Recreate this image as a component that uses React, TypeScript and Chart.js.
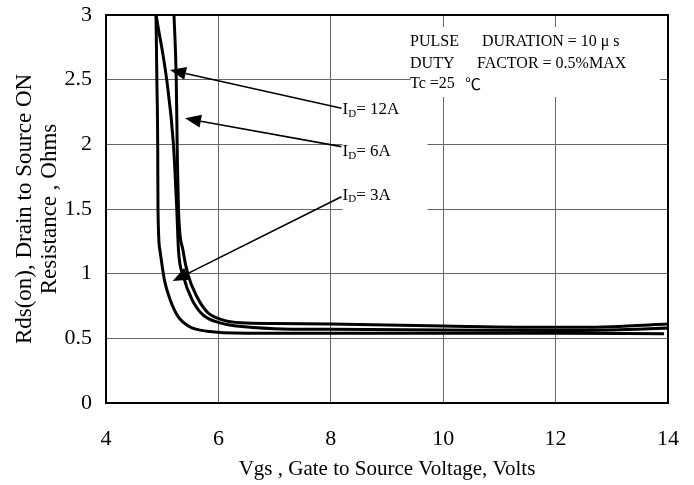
import React, { useEffect, useRef } from "react";
import { Chart, registerables } from "chart.js";

Chart.register(...registerables);

// ---- data ----
const vgs3A = [4.89, 4.905, 4.92, 4.925, 4.96, 5.04, 5.14, 5.28, 5.49, 5.8, 6.5, 8, 10, 12, 13.93];
const rds3A = [3.0, 2.5, 2.0, 1.5, 1.18, 0.95, 0.8, 0.67, 0.59, 0.555, 0.54, 0.54, 0.54, 0.54, 0.535];

const vgs6A = [4.89, 5.08, 5.2, 5.26, 5.29, 5.37, 5.53, 5.73, 6.03, 6.33, 7, 8, 10, 12, 13, 14];
const rds6A = [3.0, 2.5, 2.0, 1.49, 1.18, 0.99, 0.8, 0.68, 0.62, 0.595, 0.575, 0.57, 0.565, 0.56, 0.565, 0.58];

const vgs12A = [5.21, 5.25, 5.27, 5.29, 5.37, 5.46, 5.62, 5.81, 6.06, 6.4, 7, 8, 10, 12, 12.5, 13, 14];
const rds12A = [3.0, 2.5, 1.88, 1.49, 1.18, 0.99, 0.82, 0.7, 0.645, 0.62, 0.615, 0.61, 0.595, 0.585, 0.585, 0.59, 0.61];

const xTickLabels = ["4", "6", "8", "10", "12", "14"];
const yTickLabels = ["0", "0.5", "1", "1.5", "2", "2.5", "3"];

const xTitle = "Vgs , Gate to Source Voltage, Volts";
const yTitle = ["Rds(on), Drain to Source ON", "Resistance , Ohms"];

const seriesLabels = ["3A", "6A", "12A"];

// annotation texts
const noteLines = [
  ["PULSE", "DURATION = 10 μ s"],
  ["DUTY", "FACTOR = 0.5%MAX"],
  ["Tc =25", "℃"],
];
const noteLineY = [2.794, 2.621, 2.467];
const noteSegX = [
  [9.41, 10.69],
  [9.41, 10.6],
  [9.41, 10.39],
];

// current labels with arrows (data units)
const labelNames = ["12A", "6A", "3A"];
const labelX = 8.21;
const labelY = [2.266, 1.943, 1.608];
const arrowTail = [
  [8.19, 2.279],
  [8.19, 1.982],
  [8.19, 1.595],
];
const arrowTip = [
  [5.139, 2.575],
  [5.406, 2.201],
  [5.187, 0.943],
];

// white boxes behind texts (data units)
const maskBoxes = [
  { x0: 9.41, x1: 13.86, y0: 2.907, y1: 2.366 },
  { x0: 8.21, x1: 9.72, y0: 2.38, y1: 1.46 },
];

const FONT = "'Liberation Serif', 'Times New Roman', serif";

function toPts(xs: number[], ys: number[]) {
  return xs.map((x, i) => ({ x, y: ys[i] }));
}

const annotPlugin = {
  id: "annot",
  beforeDatasetsDraw(chart: any) {
    const { ctx, scales } = chart;
    const xs = scales.x;
    const ys = scales.y;
    ctx.save();
    ctx.fillStyle = "#ffffff";
    for (const b of maskBoxes) {
      const x0 = xs.getPixelForValue(b.x0);
      const x1 = xs.getPixelForValue(b.x1);
      const y0 = ys.getPixelForValue(b.y0);
      const y1 = ys.getPixelForValue(b.y1);
      ctx.fillRect(x0, y0, x1 - x0, y1 - y0);
    }
    ctx.restore();
  },
  afterDatasetsDraw(chart: any) {
    const { ctx, scales, chartArea } = chart;
    const xs = scales.x;
    const ys = scales.y;
    ctx.save();
    // frame
    ctx.strokeStyle = "#000";
    ctx.lineWidth = 2;
    ctx.strokeRect(chartArea.left, chartArea.top, chartArea.right - chartArea.left, chartArea.bottom - chartArea.top);

    ctx.fillStyle = "#000";
    ctx.textBaseline = "middle";
    ctx.textAlign = "left";
    // note text
    noteLines.forEach((segs, i) => {
      segs.forEach((s, j) => {
        ctx.font = s === "℃" ? `16px 'Noto Sans CJK SC', ${FONT}` : `16px ${FONT}`;
        ctx.fillText(s, xs.getPixelForValue(noteSegX[i][j]), ys.getPixelForValue(noteLineY[i]));
      });
    });

    // labels I_D= ...
    labelNames.forEach((name, i) => {
      let px = xs.getPixelForValue(labelX);
      const py = ys.getPixelForValue(labelY[i]);
      ctx.font = `17px ${FONT}`;
      ctx.fillText("I", px, py);
      px += ctx.measureText("I").width;
      ctx.font = `11px ${FONT}`;
      ctx.fillText("D", px, py + 4);
      px += ctx.measureText("D").width;
      ctx.font = `17px ${FONT}`;
      ctx.fillText("= " + name, px, py);
    });

    // arrows
    ctx.strokeStyle = "#000";
    ctx.lineWidth = 1.6;
    arrowTail.forEach((t, i) => {
      const x0 = xs.getPixelForValue(t[0]);
      const y0 = ys.getPixelForValue(t[1]);
      const x1 = xs.getPixelForValue(arrowTip[i][0]);
      const y1 = ys.getPixelForValue(arrowTip[i][1]);
      const ang = Math.atan2(y1 - y0, x1 - x0);
      const hl = 16;
      const hw = 6.5;
      const bx = x1 - hl * Math.cos(ang);
      const by = y1 - hl * Math.sin(ang);
      ctx.beginPath();
      ctx.moveTo(x0, y0);
      ctx.lineTo(bx, by);
      ctx.stroke();
      ctx.beginPath();
      ctx.moveTo(x1, y1);
      ctx.lineTo(bx + hw * Math.sin(ang), by - hw * Math.cos(ang));
      ctx.lineTo(bx - hw * Math.sin(ang), by + hw * Math.cos(ang));
      ctx.closePath();
      ctx.fill();
    });
    ctx.restore();
  },
};

export default function App() {
  const canvasRef = useRef<HTMLCanvasElement | null>(null);

  useEffect(() => {
    if (!canvasRef.current) return;
    const lineStyle = {
      borderColor: "#000",
      borderWidth: 3,
      pointRadius: 0,
      pointHoverRadius: 0,
      fill: false,
      cubicInterpolationMode: "monotone" as const,
    };
    const chart = new Chart(canvasRef.current, {
      type: "line",
      data: {
        datasets: [
          { label: seriesLabels[0], data: toPts(vgs3A, rds3A), ...lineStyle },
          { label: seriesLabels[1], data: toPts(vgs6A, rds6A), ...lineStyle },
          { label: seriesLabels[2], data: toPts(vgs12A, rds12A), ...lineStyle },
        ],
      },
      options: {
        responsive: false,
        animation: false,
        devicePixelRatio: 1,
        layout: { padding: { left: 0, right: 26, top: 15, bottom: 0 } },
        plugins: {
          legend: { display: false },
          tooltip: { enabled: false },
        },
        scales: {
          x: {
            type: "linear",
            min: 4,
            max: 14,
            ticks: {
              stepSize: 2,
              padding: 23,
              color: "#000",
              font: { family: FONT, size: 22 },
              callback: (_v: any, i: number) => xTickLabels[i],
            },
            grid: { color: "#666", lineWidth: 1, drawTicks: false },
            border: { display: false },
            title: {
              display: true,
              text: xTitle,
              color: "#000",
              font: { family: FONT, size: 21 },
              padding: { top: 0, bottom: 3 },
            },
            afterFit: (scale: any) => {
              scale.height = 82;
              scale.paddingLeft = 0;
              scale.paddingRight = 0;
            },
          },
          y: {
            type: "linear",
            min: 0,
            max: 3,
            ticks: {
              stepSize: 0.5,
              padding: 14,
              color: "#000",
              font: { family: FONT, size: 22 },
              callback: (_v: any, i: number) => yTickLabels[i],
            },
            grid: { color: "#666", lineWidth: 1, drawTicks: false },
            border: { display: false },
            title: {
              display: true,
              text: yTitle,
              color: "#000",
              font: { family: FONT, size: 23, lineHeight: 1.087 },
              padding: { top: 12.5, bottom: 0 },
            },
            afterFit: (scale: any) => {
              scale.width = 106;
              scale.paddingTop = 0;
              scale.paddingBottom = 0;
            },
          },
        },
      },
      plugins: [annotPlugin],
    });
    return () => chart.destroy();
  }, []);

  return (
    <div style={{ position: "absolute", left: 0, top: 0, width: 694, height: 485, background: "#fff" }}>
      <canvas ref={canvasRef} width={694} height={485} />
    </div>
  );
}
